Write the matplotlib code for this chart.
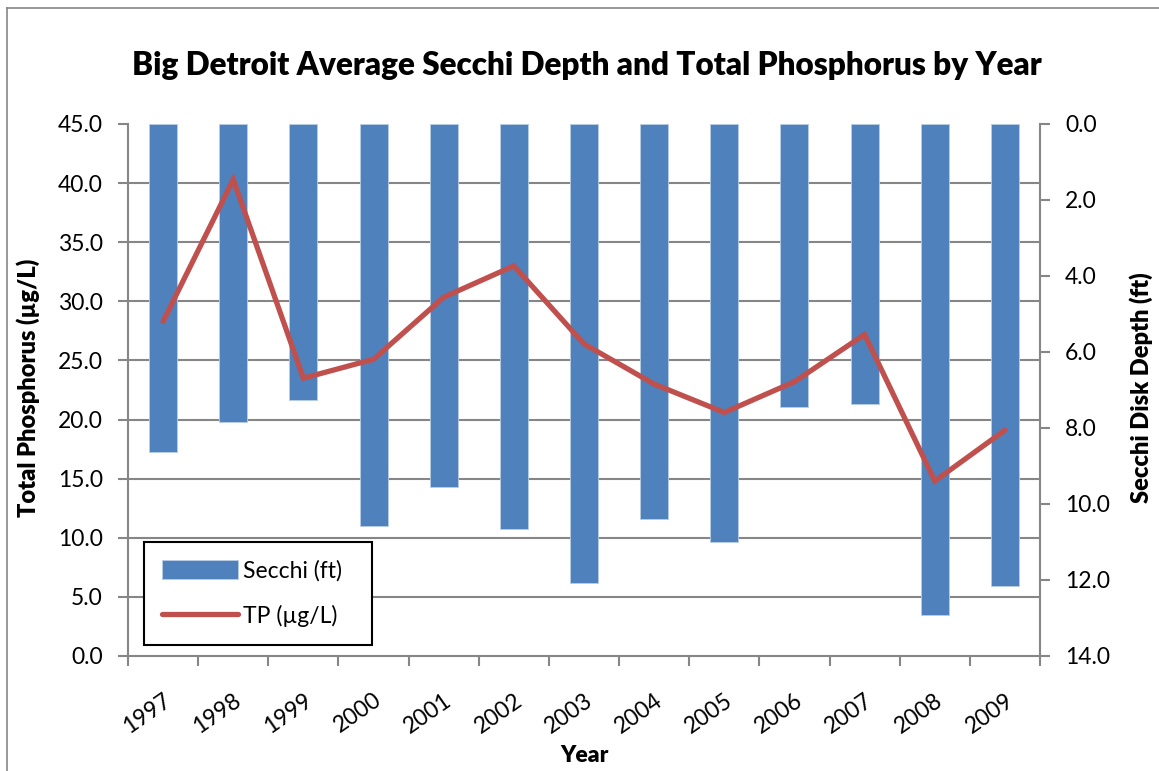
import numpy as np
import matplotlib
matplotlib.use("Agg")
import matplotlib.pyplot as plt
from matplotlib.ticker import FixedLocator
from matplotlib.lines import Line2D

years = ["1997", "1998", "1999", "2000", "2001", "2002", "2003",
         "2004", "2005", "2006", "2007", "2008", "2009"]
secchi_ft = [8.64, 7.84, 7.26, 10.57, 9.56, 10.66, 12.07,
             10.39, 11.01, 7.46, 7.37, 12.91, 12.15]
tp_ugl = [28.3, 40.3, 23.5, 25.1, 30.35, 33.0, 26.4,
          23.0, 20.6, 23.2, 27.2, 14.8, 19.1]
tp_ticks = [0, 5, 10, 15, 20, 25, 30, 35, 40, 45]
secchi_ticks = [0, 2, 4, 6, 8, 10, 12, 14]

FONT = "Lato"
plt.rcParams['font.family'] = [FONT, 'DejaVu Sans']

W, H = 1159, 771
fig = plt.figure(figsize=(W / 100, H / 100), dpi=100)
fig.patch.set_facecolor("white")

L, R, T, B = 128, 1040, 124, 656
ax = fig.add_axes([L / W, 1 - B / H, (R - L) / W, (B - T) / H])
ax2 = ax.twinx()

gray = "#868686"
blue = "#4F81BD"
red = "#C0504D"
TS = 16.5

x = np.arange(len(years))

# bars on secondary (inverted) axis
ax2.bar(x, secchi_ft, width=0.4, color=blue, edgecolor="#B9CDE5",
        linewidth=0.6, zorder=3, label="Secchi (ft)")
ax2.set_ylim(14, 0)
ax2.set_yticks(secchi_ticks)
ax2.set_yticklabels([f"{v:.1f}" for v in secchi_ticks])
# gridlines matching primary ticks, drawn below the bars
ax2.yaxis.set_minor_locator(FixedLocator([14 * (1 - t / 45) for t in tp_ticks]))
ax2.grid(True, which="minor", axis="y", color=gray, linewidth=1.5, zorder=0)
ax2.tick_params(axis="y", which="minor", length=0)
ax2.set_axisbelow(True)

# line on primary axis, drawn above
ax.set_zorder(ax2.get_zorder() + 1)
ax.patch.set_visible(False)
ax.plot(x, tp_ugl, color=red, linewidth=3.8, solid_capstyle="round",
        solid_joinstyle="miter", zorder=4, label="TP (µg/L)")
ax.set_ylim(0, 45)
ax.set_yticks(tp_ticks)
ax.set_yticklabels([f"{v:.1f}" for v in tp_ticks])

ax.set_xlim(-0.5, len(years) - 0.5)
ax.set_xticks(np.arange(-0.5, len(years), 1.0))
ax.set_xticklabels([])
ax.set_xticks(x, minor=True)
ax.set_xticklabels(years, minor=True, rotation=35, ha="right", va="top",
                   rotation_mode="anchor", fontsize=TS)
ax.tick_params(axis="x", which="minor", length=0, pad=24)
ax.tick_params(axis="x", which="major", length=7, width=1.5, color=gray,
               direction="out")

ax.tick_params(axis="y", length=7, width=1.5, color=gray, direction="out",
               labelsize=TS, pad=11)
ax2.tick_params(axis="y", which="major", length=7, width=1.5, color=gray,
                direction="out", labelsize=TS, pad=11)

for a in (ax, ax2):
    for s in a.spines.values():
        s.set_visible(False)
ax.spines["left"].set_visible(True)
ax.spines["left"].set_color(gray)
ax.spines["left"].set_linewidth(1.5)
ax.spines["bottom"].set_visible(True)
ax.spines["bottom"].set_color(gray)
ax.spines["bottom"].set_linewidth(1.5)
ax2.spines["right"].set_visible(True)
ax2.spines["right"].set_color(gray)
ax2.spines["right"].set_linewidth(1.5)

fig.text(587 / W, 1 - 65 / H,
         "Big Detroit Average Secchi Depth and Total Phosphorus by Year",
         ha="center", va="center", fontsize=22.7, fontweight="heavy")
fig.text(584 / W, 1 - 755 / H, "Year", ha="center", va="center",
         fontsize=16.5, fontweight="heavy")
fig.text(28 / W, 1 - 388 / H, "Total Phosphorus (µg/L)", ha="center",
         va="center", rotation=90, fontsize=17, fontweight="heavy")
fig.text(1141 / W, 1 - 388 / H, "Secchi Disk Depth (ft)", ha="center",
         va="center", rotation=90, fontsize=17, fontweight="heavy")

# outer chart border (partially cropped)
fig.add_artist(Line2D([6.5 / W, 6.5 / W], [0, 1 - 8 / H], transform=fig.transFigure,
                      color=gray, linewidth=1.2))
fig.add_artist(Line2D([6.5 / W, 1], [1 - 8 / H, 1 - 8 / H], transform=fig.transFigure,
                      color=gray, linewidth=1.2))

h1, l1 = ax2.get_legend_handles_labels()
h2, l2 = ax.get_legend_handles_labels()
leg = ax.legend(h1 + h2, l1 + l2, loc="lower left",
                bbox_to_anchor=((144 - L) / (R - L), (B - 645) / (B - T)),
                frameon=True, fancybox=False, fontsize=TS, handlelength=3.3,
                handleheight=0.9, labelspacing=1.0, borderpad=0.8,
                borderaxespad=0, handletextpad=0.2, framealpha=1)
leg.get_frame().set_edgecolor("black")
leg.get_frame().set_linewidth(1.5)
leg._legend_box.align = "left"
leg.set_zorder(10)
# widen frame to match
for t in leg.get_texts():
    t.set_text(t.get_text() + "  " if "Secchi" in t.get_text() else t.get_text())

fig.savefig("out.png", dpi=100, facecolor="white")
